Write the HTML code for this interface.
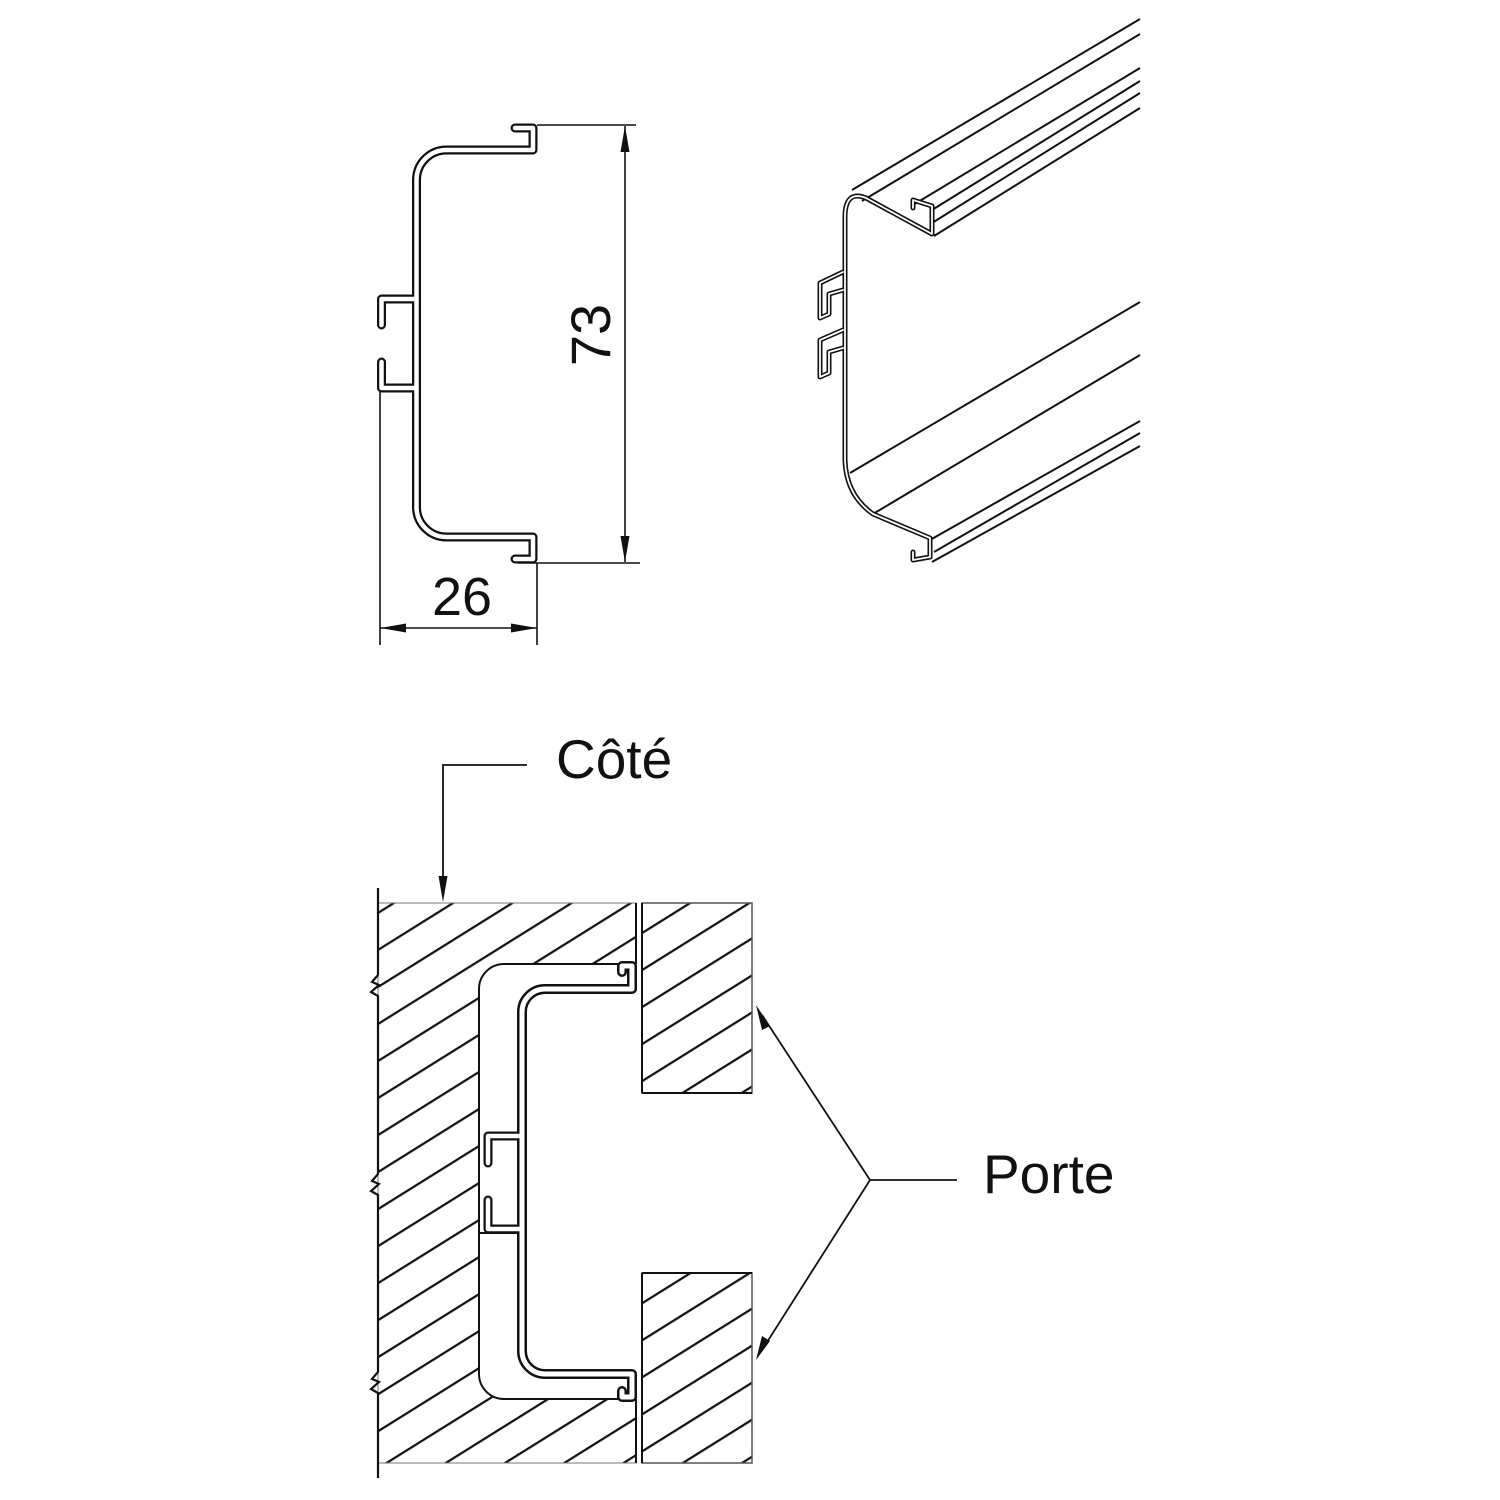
<!DOCTYPE html>
<html><head><meta charset="utf-8"><style>
html,body{margin:0;padding:0;background:#fff;}
svg{display:block;}
text{font-family:"Liberation Sans",Arial,sans-serif;fill:#111;}
</style></head><body>
<svg width="1500" height="1500" viewBox="0 0 1500 1500" xmlns="http://www.w3.org/2000/svg">
<defs>
<pattern id="h" patternUnits="userSpaceOnUse" width="20" height="31.4" patternTransform="rotate(-32)">
<line x1="0" y1="1" x2="20" y2="1" stroke="#111" stroke-width="2.6"/>
</pattern>
</defs>

<!-- ===== Profile 2D ===== -->
<g fill="none" stroke-linejoin="round" stroke-linecap="round">
<path d="M515,128 H533 V150 H447 A30,30 0 0 0 416.5,180 V507 A30,30 0 0 0 446.5,537 H533 V559 H515" stroke="#111" stroke-width="9"/>
<path d="M381.5,325 V299 H416.5 M381.5,362 V388 H416.5" stroke="#111" stroke-width="9"/>
<path d="M515,128 H533 V150 H447 A30,30 0 0 0 416.5,180 V507 A30,30 0 0 0 446.5,537 H533 V559 H515" stroke="#fff" stroke-width="4.5"/>
<path d="M381.5,325 V299 H416.5 M381.5,362 V388 H416.5" stroke="#fff" stroke-width="4.5"/>
</g>
<g stroke="#111" stroke-width="1.6" fill="none">
<path d="M537,125 H636 M518,563 H640 M625,126 V562"/>
<path d="M380,392 V645 M537,563 V645 M380,628 H537"/>
</g>
<g fill="#111">
<polygon points="625,126 620.5,152 629.5,152"/>
<polygon points="625,562 620.5,536 629.5,536"/>
<polygon points="380,628 406,623.5 406,632.5"/>
<polygon points="537,628 511,623.5 511,632.5"/>
</g>
<text x="462" y="615" font-size="54" text-anchor="middle">26</text>
<text transform="translate(610,335) rotate(-90)" font-size="56" text-anchor="middle">73</text>

<!-- ===== 3D view ===== -->
<g fill="none" stroke="#111" stroke-width="2" stroke-linejoin="round">
<path d="M852,190 L1140,19"/>
<path d="M862,201 L1140,34"/>
<path d="M913,205 L1140,68"/>
<path d="M932,210 L1140,81"/>
<path d="M932,223 L1140,93"/>
<path d="M934,236 L1140,108"/>
<path d="M850,473 L1140,302"/>
<path d="M873,514 L1140,355"/>
<path d="M930,540 L1140,421"/>
<path d="M934,552 L1140,433"/>
<path d="M932,562 L1140,446"/>
</g>
<g fill="none" stroke-linejoin="round" stroke-linecap="round">
<path d="M913,208 L913,200 L932,206 L932,234 L866,198 Q846,190 845,215 L845,460 Q846,495 873,514 L930,538 L930,557 L913,560 L913,552" stroke="#111" stroke-width="5"/>
<path d="M843,272 L820,283 L820,318 L829,314 L829,294 L843,290 M843,330 L820,340 L820,377 L829,373 L829,352 L843,348" stroke="#111" stroke-width="5"/>
<path d="M913,208 L913,200 L932,206 L932,234 L866,198 Q846,190 845,215 L845,460 Q846,495 873,514 L930,538 L930,557 L913,560 L913,552" stroke="#fff" stroke-width="1.8"/>
<path d="M843,272 L820,283 L820,318 L829,314 L829,294 L843,290 M843,330 L820,340 L820,377 L829,373 L829,352 L843,348" stroke="#fff" stroke-width="1.8"/>
</g>

<!-- ===== Section ===== -->
<rect x="378" y="903" width="258" height="560" fill="url(#h)" stroke="#777" stroke-width="1"/>
<rect x="642" y="903" width="110" height="190" fill="url(#h)" stroke="#555" stroke-width="1.5"/>
<rect x="642" y="1273" width="110" height="190" fill="url(#h)" stroke="#555" stroke-width="1.5"/>
<path d="M638,964 H504 A25,25 0 0 0 479,989 V1374 A25,25 0 0 0 504,1399 H638 Z" fill="#fff" stroke="none"/>
<path d="M636,964 H504 A25,25 0 0 0 479,989 V1374 A25,25 0 0 0 504,1399 H636" fill="none" stroke="#111" stroke-width="2"/>
<rect x="637" y="1094" width="120" height="178" fill="#fff"/>
<path d="M636,903 V964 M636,1399 V1463 M642,903 V1093 M642,1273 V1463 M642,1093 H752 M642,1273 H752" stroke="#111" stroke-width="2" fill="none"/>
<g fill="none" stroke-linejoin="round" stroke-linecap="round">
<path d="M622,972 V966 H632 V989 H545 A23,23 0 0 0 522,1012 V1351 A23,23 0 0 0 545,1374 H632 V1397 H622 V1391" stroke="#111" stroke-width="10"/>
<path d="M488,1163 V1136 H522 M488,1200 V1229 H522" stroke="#111" stroke-width="9"/>
<path d="M622,972 V966 H632 V989 H545 A23,23 0 0 0 522,1012 V1351 A23,23 0 0 0 545,1374 H632 V1397 H622 V1391" stroke="#fff" stroke-width="5"/>
<path d="M488,1163 V1136 H522 M488,1200 V1229 H522" stroke="#fff" stroke-width="4.5"/>
</g>
<path d="M479,1233 H517" stroke="#111" stroke-width="2"/>
<polyline points="378,888 378,975 372,982 379,985 371,992 378,996 378,1174 372,1181 379,1184 371,1191 378,1195 378,1372 372,1379 379,1382 371,1389 378,1393 378,1478" fill="none" stroke="#111" stroke-width="2.2"/>

<!-- leaders -->
<g stroke="#111" stroke-width="1.8" fill="none">
<path d="M527,765 H443 V880"/>
<path d="M957,1180 H870 L762,1015 M870,1180 L762,1350"/>
</g>
<g fill="#111">
<polygon points="443,902 438.5,876 447.5,876"/>
<polygon points="756,1005 770,1026 762,1030"/>
<polygon points="756,1360 762,1336 770,1341"/>
</g>
<text x="556" y="778" font-size="55">Côté</text>
<text x="983" y="1193" font-size="55">Porte</text>
</svg>
</body></html>
